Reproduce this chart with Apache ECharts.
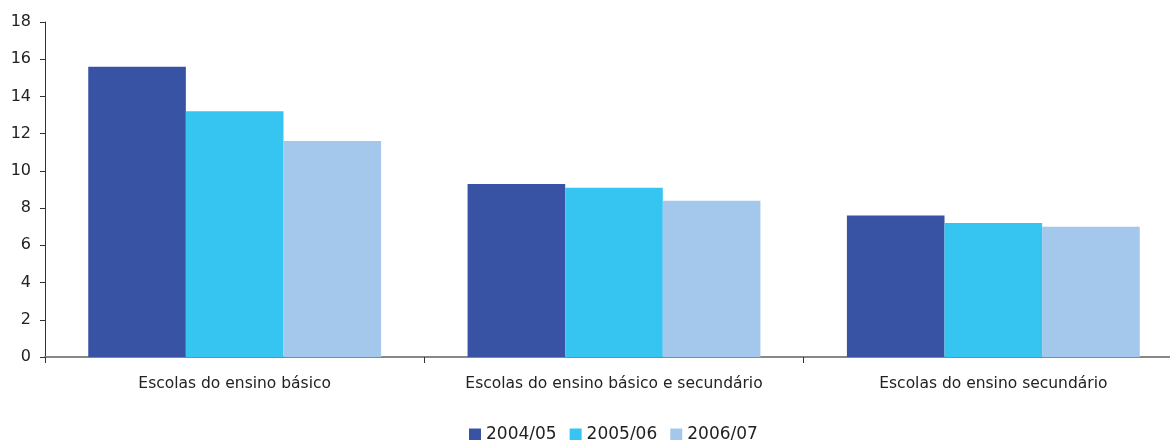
<!DOCTYPE html>
<html><head><meta charset="utf-8">
<script src="https://cdn.jsdelivr.net/npm/echarts@6/dist/echarts.min.js"></script>
<style>html,body{margin:0;padding:0;background:#fff}#c{width:1170px;height:440px}</style>
</head><body><div id="c"></div>
<script>
const categories = ['Escolas do ensino básico', 'Escolas do ensino básico e secundário', 'Escolas do ensino secundário'];
const seriesNames = ['2004/05', '2005/06', '2006/07'];
const s2004 = [15.6, 9.3, 7.6];
const s2005 = [13.2, 9.1, 7.2];
const s2006 = [11.6, 8.4, 7.0];
const yTicks = { min: 0, max: 18, interval: 2 };
const colors = ['#3953A4', '#36C5F0', '#A3C8EC'];
const values = [s2004, s2005, s2006];

const chart = echarts.init(document.getElementById('c'), null, { renderer: 'canvas' });
chart.setOption({
  animation: false,
  color: colors,
  grid: { left: 45, width: 1138, top: 22, bottom: 83, containLabel: false, outerBoundsMode: 'none' },
  legend: {
    top: 421, left: 464, itemWidth: 12, itemHeight: 12, itemGap: 13,
    icon: 'rect',
    textStyle: { fontFamily: 'DejaVu Sans', fontSize: 17, color: '#222' },
    data: seriesNames
  },
  xAxis: {
    type: 'category', data: categories,
    axisLine: { lineStyle: { color: '#888', width: 2 } },
    axisTick: { show: true, interval: 0, length: 6, lineStyle: { color: '#333' } },
    axisLabel: { interval: 0, hideOverlap: false, fontFamily: 'DejaVu Sans', fontSize: 15.5, color: '#222', margin: 19 }
  },
  yAxis: {
    type: 'value', min: yTicks.min, max: yTicks.max, interval: yTicks.interval,
    splitLine: { show: false },
    axisLine: { show: true, lineStyle: { color: '#333' } },
    axisTick: { show: true, length: 5, lineStyle: { color: '#333' } },
    axisLabel: { fontFamily: 'DejaVu Sans', fontSize: 16, color: '#222', margin: 14 }
  },
  series: seriesNames.map((n, i) => ({
    name: n, type: 'bar', data: values[i], barGap: '0%', barCategoryGap: '22.8%'
  }))
});
</script></body></html>
